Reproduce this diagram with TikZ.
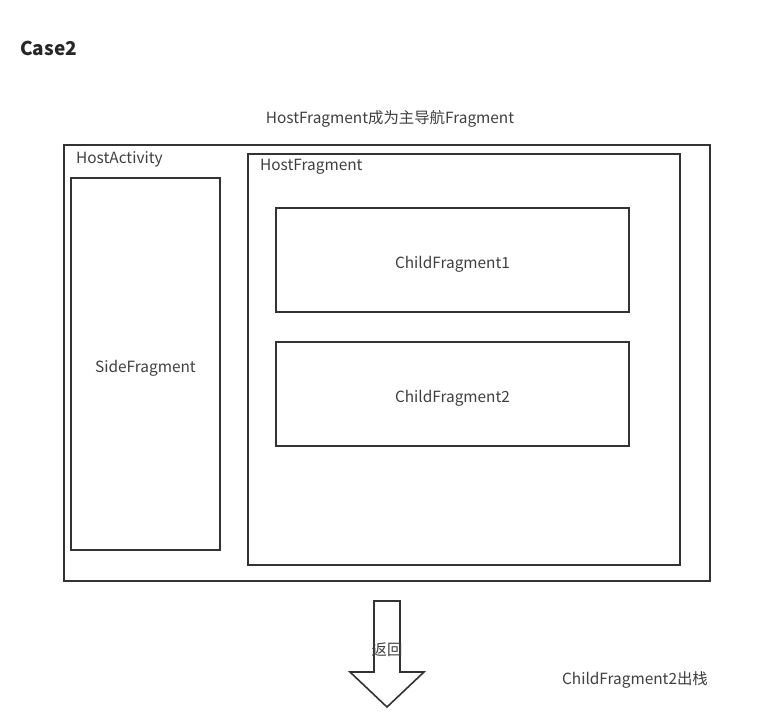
\documentclass[tikz,border=0pt]{standalone}
\usepackage{fontspec}
\setmainfont{Noto Sans CJK SC}
\begin{document}
\begin{tikzpicture}[x=1pt,y=-1pt,
  box/.style={draw=black!80,line width=2pt},
  lbl/.style={text=black!75,font=\fontsize{15.4}{17}\selectfont,inner sep=0pt}]
\useasboundingbox (0,0) rectangle (784,713);
\fill[white] (0,0) rectangle (784,713);
\node[anchor=west,text=black!85,font=\fontsize{19}{22}\selectfont\bfseries,inner sep=0pt] (case) at (20,48) {Case2};
\node[lbl] (title) at (390,118.5) {HostFragment成为主导航Fragment};
\draw[box] (64,145) rectangle (710,581);
\node[lbl,anchor=west] (ha) at (76,159) {HostActivity};
\draw[box] (71,178) rectangle (220,550);
\node[lbl] (sf) at (145.5,368) {SideFragment};
\draw[box] (248,154) rectangle (680,565);
\node[lbl,anchor=west] (hf) at (260,167) {HostFragment};
\draw[box] (276,208) rectangle (629,312);
\node[lbl] (c1) at (452.5,264) {ChildFragment1};
\draw[box] (276,342) rectangle (629,446);
\node[lbl] (c2) at (452.5,398) {ChildFragment2};
\draw[draw=black!80,line width=1.6pt,line join=miter]
  (374,601) -- (400,601) -- (400,672) -- (424,672) -- (387,707) -- (350,672) -- (374,672) -- cycle;
\node[lbl] (back) at (387,650) {返回};
\node[lbl] (pop) at (635,680) {ChildFragment2出栈};
\end{tikzpicture}
\end{document}
